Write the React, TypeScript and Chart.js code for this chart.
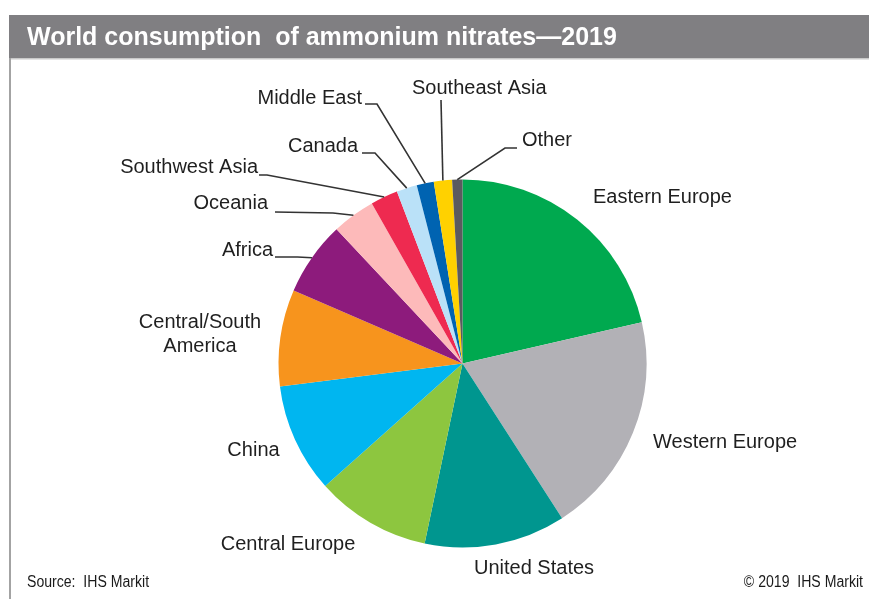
import React, { useEffect, useRef } from "react";
import { Chart, registerables } from "chart.js";

Chart.register(...registerables);

// Regional shares of world ammonium nitrate consumption, 2019 (%)
const categories = [
  "Eastern Europe",
  "Western Europe",
  "United States",
  "Central Europe",
  "China",
  "Central/South America",
  "Africa",
  "Oceania",
  "Southwest Asia",
  "Canada",
  "Middle East",
  "Southeast Asia",
  "Other",
];
const shares = [21.4, 19.5, 12.4, 10.1, 9.6, 8.5, 6.5, 3.8, 2.4, 1.8, 1.5, 1.6, 0.9];
const sliceColors = [
  "#00A94F",
  "#B2B1B6",
  "#00968F",
  "#8DC63F",
  "#00B6F0",
  "#F7941D",
  "#8D1B7C",
  "#FDBABA",
  "#EE2A50",
  "#BAE1F8",
  "#0063B1",
  "#FFD100",
  "#5B5A5F",
];

const titleText = "World consumption  of ammonium nitrates\u20142019";
const sourceText = "Source:  IHS Markit";
const copyrightText = "\u00A9 2019  IHS Markit";

// Label text lines per slice
const labelLines: string[][] = [
  ["Eastern Europe"],
  ["Western Europe"],
  ["United States"],
  ["Central Europe"],
  ["China"],
  ["Central/South", "America"],
  ["Africa"],
  ["Oceania"],
  ["Southwest Asia"],
  ["Canada"],
  ["Middle East"],
  ["Southeast Asia"],
  ["Other"],
];

type LabelPlace = {
  dx: number;
  dy: number;
  align: CanvasTextAlign;
  leader?: [number, number, number, number];
};

// Label placement relative to the pie centre; leader = [start x, start y, elbow x, elbow y]
const labelPlaces: LabelPlace[] = [
  { dx: 130.5, dy: -166, align: "left" },
  { dx: 190.5, dy: 79, align: "left" },
  { dx: 11.5, dy: 205, align: "left" },
  { dx: -174.5, dy: 180.5, align: "center" },
  { dx: -209, dy: 86.5, align: "center" },
  { dx: -262.5, dy: -41.5, align: "center" },
  { dx: -189.5, dy: -113.5, align: "right", leader: [-187.5, -106.5, -165, -106.5] },
  { dx: -194.5, dy: -160.5, align: "right", leader: [-187.5, -151.5, -129.5, -150.5] },
  { dx: -204.5, dy: -196.5, align: "right", leader: [-203.5, -188.5, -195.5, -188.5] },
  { dx: -104.5, dy: -217.5, align: "right", leader: [-100.5, -210.5, -87.5, -210.5] },
  { dx: -100.5, dy: -265.5, align: "right", leader: [-97.5, -259.5, -85.5, -259.5] },
  { dx: -50.5, dy: -275.5, align: "left", leader: [-21.5, -263.5, -21.5, -263.5] },
  { dx: 59.5, dy: -223.5, align: "left", leader: [54.5, -215.5, 42.5, -215.5] },
];

const FONT = '"Liberation Sans", Arial, Helvetica, sans-serif';

const framePlugin = {
  id: "frame",
  beforeDraw(chart: Chart) {
    const ctx = chart.ctx;
    const w = chart.width;
    const h = chart.height;
    ctx.save();
    // title band
    ctx.fillStyle = "#807F82";
    ctx.fillRect(9, 15, w - 9, 43);
    ctx.fillStyle = "#C9C9C9";
    ctx.fillRect(11, 58, w - 11, 1.5);
    // left frame rule
    ctx.fillStyle = "#A3A3A3";
    ctx.fillRect(9, 58, 2, h - 58);
    // title
    ctx.fillStyle = "#FFFFFF";
    ctx.font = "bold 25px " + FONT;
    ctx.textAlign = "left";
    ctx.textBaseline = "alphabetic";
    ctx.fillText(titleText, 27, 45);
    // footer notes (condensed)
    ctx.fillStyle = "#1a1a1a";
    ctx.font = "16px " + FONT;
    ctx.save();
    ctx.translate(27, 587);
    ctx.scale(0.88, 1);
    ctx.fillText(sourceText, 0, 0);
    ctx.restore();
    ctx.save();
    ctx.translate(863, 587);
    ctx.scale(0.88, 1);
    ctx.textAlign = "right";
    ctx.fillText(copyrightText, 0, 0);
    ctx.restore();
    ctx.restore();
  },
};

const sliceLabelPlugin = {
  id: "sliceLabels",
  afterDatasetsDraw(chart: Chart) {
    const ctx = chart.ctx;
    const meta = chart.getDatasetMeta(0);
    ctx.save();
    meta.data.forEach((el: any, i: number) => {
      const p = el.getProps(["x", "y", "startAngle", "endAngle", "outerRadius"], true);
      const mid = (p.startAngle + p.endAngle) / 2;
      const ax = p.x + Math.cos(mid) * p.outerRadius;
      const ay = p.y + Math.sin(mid) * p.outerRadius;
      const place = labelPlaces[i];
      ctx.font = "20px " + FONT;
      ctx.fillStyle = "#1f1f1f";
      ctx.textAlign = place.align;
      ctx.textBaseline = "middle";
      labelLines[i].forEach((t, k) => {
        ctx.fillText(t, p.x + place.dx, p.y + place.dy + k * 24);
      });
      if (place.leader) {
        const [sx, sy, ex, ey] = place.leader;
        ctx.strokeStyle = "#333333";
        ctx.lineWidth = 1.6;
        ctx.beginPath();
        ctx.moveTo(p.x + sx, p.y + sy);
        ctx.lineTo(p.x + ex, p.y + ey);
        ctx.lineTo(ax, ay);
        ctx.stroke();
      }
    });
    ctx.restore();
  },
};

export default function App() {
  const canvasRef = useRef<HTMLCanvasElement | null>(null);

  useEffect(() => {
    const canvas = canvasRef.current;
    if (!canvas) return;
    const chart = new Chart(canvas, {
      type: "pie",
      data: {
        labels: categories,
        datasets: [
          {
            data: shares,
            backgroundColor: sliceColors,
            borderWidth: 0,
          },
        ],
      },
      options: {
        responsive: false,
        animation: false,
        devicePixelRatio: 1,
        layout: {
          padding: { top: 179.5, bottom: 51.5, left: 278.5, right: 222.5 },
        },
        plugins: {
          legend: { display: false },
          tooltip: { enabled: false },
          title: { display: false },
        },
      },
      plugins: [framePlugin, sliceLabelPlugin],
    });
    return () => chart.destroy();
  }, []);

  return (
    <div
      style={{
        position: "absolute",
        left: 0,
        top: 0,
        width: 869,
        height: 599,
        background: "#FFFFFF",
        overflow: "hidden",
      }}
    >
      <canvas ref={canvasRef} width={869} height={599} style={{ display: "block" }} />
    </div>
  );
}
